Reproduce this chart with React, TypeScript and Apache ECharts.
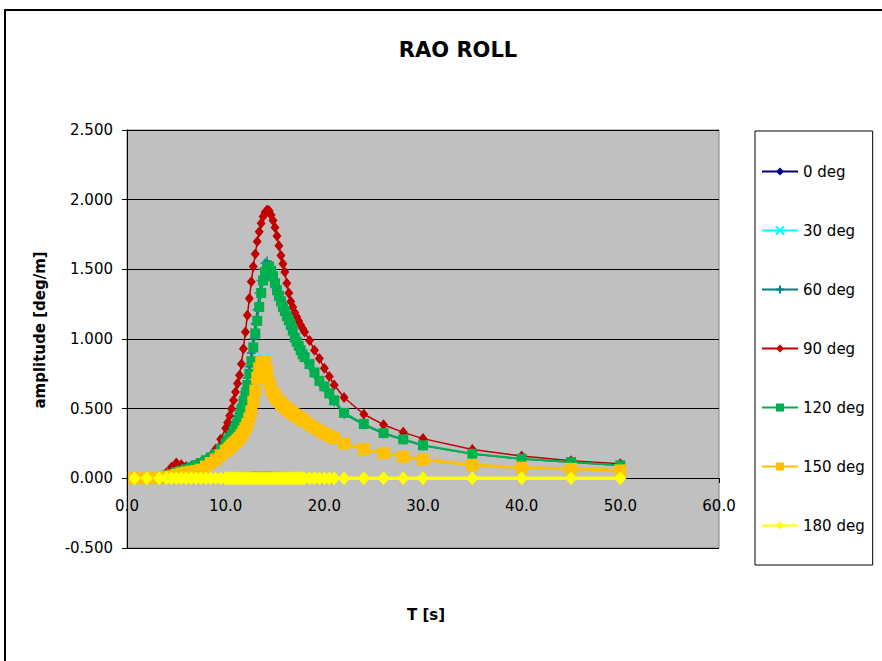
import React, { useEffect, useRef } from 'react';
import * as echarts from 'echarts';

const FONT = "'DejaVu Sans', 'Liberation Sans', Arial, sans-serif";

// Wave period T [s]
const T = [
  0.75, 2.0, 3.25, 4.0, 4.5, 5.0, 5.5, 6.0, 6.5, 7.0, 7.5, 8.0, 8.5, 9.0, 9.5,
  10.0, 10.2, 10.4, 10.6, 10.8, 11.0, 11.2, 11.4, 11.6, 11.8,
  12.0, 12.2, 12.4, 12.6, 12.8, 13.0, 13.2, 13.4, 13.6, 13.8,
  14.0, 14.2, 14.4, 14.6, 14.8, 15.0, 15.2, 15.4, 15.6, 15.8,
  16.0, 16.2, 16.4, 16.6, 16.8, 17.0, 17.2, 17.4, 17.6, 17.8,
  18.0, 18.5, 19.0, 19.5, 20.0, 20.5, 21.0,
  22, 24, 26, 28, 30, 35, 40, 45, 50,
];

const deg0 = [
  0.000, 0.000, 0.001, 0.001, 0.002, 0.002, 0.002, 0.003, 0.003, 0.003, 0.004, 0.004, 0.005, 0.005, 0.006,
  0.006, 0.006, 0.007, 0.007, 0.007, 0.008, 0.008, 0.008, 0.009, 0.009,
  0.009, 0.010, 0.010, 0.011, 0.011, 0.012, 0.012, 0.012, 0.012, 0.012,
  0.012, 0.012, 0.011, 0.011, 0.010, 0.010, 0.009, 0.009, 0.009, 0.008,
  0.008, 0.008, 0.008, 0.007, 0.007, 0.007, 0.007, 0.006, 0.006, 0.006,
  0.006, 0.006, 0.005, 0.005, 0.005, 0.005, 0.004,
  0.004, 0.003, 0.003, 0.002, 0.002, 0.002, 0.001, 0.001, 0.001,
];

const deg30 = [
  0.000, 0.001, 0.004, 0.010, 0.015, 0.024, 0.034, 0.041, 0.047, 0.052, 0.061, 0.084, 0.108, 0.133, 0.163,
  0.193, 0.203, 0.218, 0.233, 0.248, 0.260, 0.273, 0.288, 0.308, 0.333,
  0.358, 0.390, 0.432, 0.485, 0.560, 0.645, 0.740, 0.815, 0.850, 0.862,
  0.858, 0.775, 0.688, 0.642, 0.607, 0.587, 0.567, 0.549, 0.534, 0.520,
  0.507, 0.496, 0.485, 0.474, 0.464, 0.454, 0.444, 0.434, 0.425, 0.416,
  0.407, 0.382, 0.360, 0.339, 0.319, 0.300, 0.284,
  0.247, 0.207, 0.177, 0.152, 0.132, 0.093, 0.075, 0.066, 0.055,
];

const deg60 = [
  0.000, 0.002, 0.010, 0.022, 0.035, 0.050, 0.060, 0.075, 0.090, 0.105, 0.120, 0.140, 0.165, 0.195, 0.235,
  0.280, 0.300, 0.325, 0.350, 0.380, 0.410, 0.445, 0.485, 0.530, 0.585,
  0.645, 0.720, 0.800, 0.900, 1.000, 1.110, 1.210, 1.330, 1.420, 1.500,
  1.545, 1.560, 1.530, 1.480, 1.430, 1.380, 1.330, 1.290, 1.250, 1.210,
  1.180, 1.145, 1.115, 1.080, 1.040, 0.995, 0.965, 0.935, 0.905, 0.875,
  0.855, 0.805, 0.745, 0.690, 0.650, 0.600, 0.550,
  0.462, 0.384, 0.320, 0.276, 0.233, 0.174, 0.138, 0.115, 0.092,
];

const deg90 = [
  0.000, 0.002, 0.010, 0.040, 0.080, 0.110, 0.100, 0.085, 0.080, 0.080, 0.090, 0.120, 0.160, 0.210, 0.280,
  0.360, 0.400, 0.450, 0.500, 0.560, 0.620, 0.680, 0.740, 0.820, 0.930,
  1.050, 1.170, 1.290, 1.410, 1.520, 1.610, 1.700, 1.770, 1.830, 1.880,
  1.910, 1.925, 1.920, 1.890, 1.850, 1.800, 1.740, 1.670, 1.600, 1.540,
  1.480, 1.400, 1.330, 1.270, 1.230, 1.190, 1.160, 1.130, 1.100, 1.075,
  1.050, 0.990, 0.920, 0.860, 0.790, 0.730, 0.670,
  0.580, 0.460, 0.385, 0.330, 0.285, 0.207, 0.160, 0.127, 0.105,
];

const deg120 = [
  0.000, 0.002, 0.008, 0.020, 0.030, 0.045, 0.055, 0.065, 0.080, 0.095, 0.110, 0.130, 0.150, 0.175, 0.210,
  0.250, 0.270, 0.290, 0.310, 0.340, 0.370, 0.400, 0.440, 0.490, 0.540,
  0.600, 0.670, 0.750, 0.840, 0.940, 1.040, 1.130, 1.230, 1.330, 1.420,
  1.480, 1.510, 1.520, 1.490, 1.450, 1.400, 1.350, 1.310, 1.270, 1.230,
  1.200, 1.165, 1.135, 1.100, 1.060, 1.010, 0.980, 0.950, 0.920, 0.890,
  0.870, 0.820, 0.760, 0.700, 0.660, 0.610, 0.560,
  0.470, 0.390, 0.325, 0.280, 0.237, 0.177, 0.140, 0.117, 0.093,
];

const deg150 = [
  0.000, 0.001, 0.004, 0.010, 0.015, 0.025, 0.035, 0.042, 0.048, 0.053, 0.062, 0.085, 0.110, 0.135, 0.165,
  0.195, 0.205, 0.220, 0.235, 0.250, 0.262, 0.275, 0.290, 0.310, 0.335,
  0.360, 0.390, 0.430, 0.480, 0.550, 0.630, 0.720, 0.790, 0.830, 0.840,
  0.840, 0.770, 0.690, 0.645, 0.610, 0.590, 0.570, 0.552, 0.537, 0.523,
  0.510, 0.499, 0.488, 0.477, 0.467, 0.457, 0.447, 0.437, 0.428, 0.419,
  0.410, 0.385, 0.363, 0.342, 0.322, 0.303, 0.287,
  0.250, 0.210, 0.180, 0.155, 0.135, 0.095, 0.077, 0.068, 0.057,
];

const deg180 = [
  0.000, 0.000, 0.000, 0.000, 0.000, 0.000, 0.000, 0.000, 0.000, 0.000, 0.000, 0.000, 0.000, 0.000, 0.000,
  0.000, 0.000, 0.000, 0.000, 0.000, 0.000, 0.000, 0.000, 0.000, 0.000,
  0.000, 0.000, 0.000, 0.000, 0.000, 0.000, 0.000, 0.000, 0.000, 0.000,
  0.000, 0.000, 0.000, 0.000, 0.000, 0.000, 0.000, 0.000, 0.000, 0.000,
  0.000, 0.000, 0.000, 0.000, 0.000, 0.000, 0.000, 0.000, 0.000, 0.000,
  0.000, 0.000, 0.000, 0.000, 0.000, 0.000, 0.000,
  0.000, 0.000, 0.000, 0.000, 0.000, 0.000, 0.000, 0.000, 0.000,
];

const SERIES_NAMES = ['0 deg', '30 deg', '60 deg', '90 deg', '120 deg', '150 deg', '180 deg'];

const X_SYMBOL = 'path://M0,0L10,10M10,0L0,10';
const PLUS_SYMBOL = 'path://M5,0L5,10M0,5L10,5';

export default function App() {
  const ref = useRef<HTMLDivElement>(null);

  useEffect(() => {
    if (!ref.current) return;
    const chart = echarts.init(ref.current, null, { renderer: 'svg' });

    const mk = (
      name: string,
      vals: number[],
      color: string,
      symbol: string,
      size: number | number[],
      lw: number,
      border: number
    ) => ({
      name,
      type: 'line',
      data: T.map((t, i) => [t, vals[i]]),
      symbol,
      symbolSize: size,
      showAllSymbol: true,
      sampling: undefined,
      lineStyle: { color, width: lw },
      itemStyle: { color, borderColor: color, borderWidth: border },
      emphasis: { disabled: true },
      silent: true,
    });

    chart.setOption({
      animation: false,
      textStyle: { fontFamily: FONT },
      grid: {
        left: 127,
        top: 130,
        width: 592,
        height: 418,
        show: true,
        backgroundColor: '#C0C0C0',
        borderColor: '#808080',
        borderWidth: 1,
        containLabel: false,
      },
      xAxis: {
        type: 'value',
        min: 0,
        max: 60,
        interval: 10,
        offset: -70,
        axisLine: { show: true, onZero: false, lineStyle: { color: '#000', width: 1 } },
        axisTick: { show: true, length: 5, lineStyle: { color: '#000' } },
        axisLabel: {
          margin: 20,
          color: '#000',
          fontSize: 15,
          fontFamily: FONT,
          formatter: (v: number) => v.toFixed(1),
        },
        splitLine: { show: false },
      },
      yAxis: {
        type: 'value',
        min: -0.5,
        max: 2.5,
        interval: 0.5,
        axisLine: { show: true, onZero: false, lineStyle: { color: '#000', width: 1 } },
        axisTick: { show: true, length: 5, lineStyle: { color: '#000' } },
        axisLabel: {
          margin: 14,
          color: '#000',
          fontSize: 15,
          fontFamily: FONT,
          formatter: (v: number) => v.toFixed(3),
        },
        splitLine: { show: true, lineStyle: { color: '#000', width: 1 } },
      },
      legend: {
        orient: 'vertical',
        left: 755,
        top: 131,
        itemWidth: 36,
        itemHeight: 10,
        itemGap: 44,
        padding: [33, 8, 32, 6],
        borderColor: '#000',
        borderWidth: 1,
        backgroundColor: '#fff',
        textStyle: { fontSize: 15, color: '#000', fontFamily: FONT },
        data: SERIES_NAMES,
        selectedMode: false,
      },
      graphic: [
        {
          type: 'rect',
          shape: { x: 5, y: 10, width: 900, height: 700 },
          style: { fill: 'none', stroke: '#000', lineWidth: 2 },
          z: 100,
          silent: true,
        },
        {
          type: 'text',
          x: 458,
          y: 50,
          style: {
            text: 'RAO ROLL',
            font: `bold 21px ${FONT}`,
            fill: '#000',
            align: 'center',
            verticalAlign: 'middle',
            textAlign: 'center',
            textVerticalAlign: 'middle',
          },
        },
        {
          type: 'text',
          x: 426,
          y: 615,
          style: {
            text: 'T [s]',
            font: `bold 15px ${FONT}`,
            fill: '#000',
            align: 'center',
            verticalAlign: 'middle',
            textAlign: 'center',
            textVerticalAlign: 'middle',
          },
        },
        {
          type: 'text',
          x: 40,
          y: 330,
          rotation: Math.PI / 2,
          style: {
            text: 'amplitude [deg/m]',
            font: `bold 15px ${FONT}`,
            fill: '#000',
            align: 'center',
            verticalAlign: 'middle',
            textAlign: 'center',
            textVerticalAlign: 'middle',
          },
        },
      ],
      series: [
        mk(SERIES_NAMES[0], deg0, '#000080', 'diamond', [9, 11], 1.5, 0),
        mk(SERIES_NAMES[1], deg30, '#00FFFF', X_SYMBOL, 8, 1.5, 1.5),
        mk(SERIES_NAMES[2], deg60, '#008080', PLUS_SYMBOL, 9, 1.5, 1.5),
        mk(SERIES_NAMES[3], deg90, '#C00000', 'diamond', [9, 11], 1.5, 0),
        mk(SERIES_NAMES[4], deg120, '#00B050', 'rect', 10, 2, 0),
        mk(SERIES_NAMES[5], deg150, '#FFC000', 'rect', 12, 3, 0),
        mk(SERIES_NAMES[6], deg180, '#FFFF00', 'diamond', [12, 14], 3.5, 0),
      ],
    });

    return () => {
      chart.dispose();
    };
  }, []);

  return (
    <div
      ref={ref}
      style={{ position: 'fixed', left: 0, top: 0, width: 882, height: 661, background: '#fff' }}
    />
  );
}
